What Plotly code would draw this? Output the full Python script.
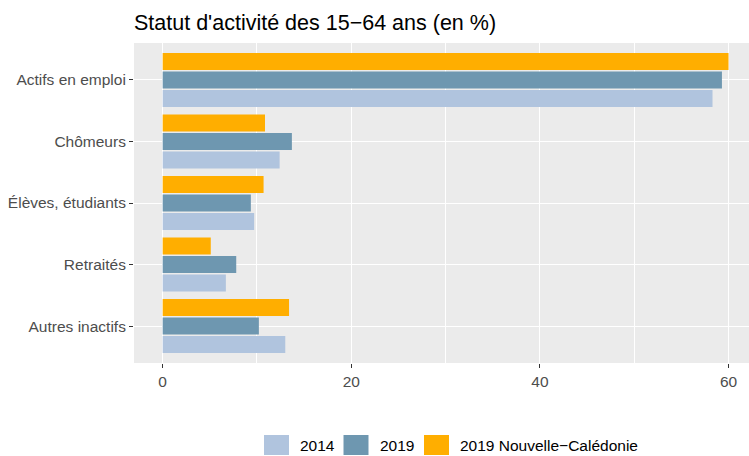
import plotly.graph_objects as go

categories = ["Actifs en emploi", "Chômeurs", "Élèves, étudiants", "Retraités", "Autres inactifs"]
v2014 = [58.3, 12.4, 9.7, 6.7, 13.0]
v2019 = [59.3, 13.7, 9.35, 7.8, 10.2]
v2019_nc = [60.0, 10.85, 10.7, 5.1, 13.4]
series_names = ["2014", "2019", "2019 Nouvelle\u2212Calédonie"]
colors = ["#B0C4DE", "#6E97B0", "#FFAE00"]
x_ticks = [0, 20, 40, 60]

W, H = 749, 456
L, R, T, B = 134, 0, 43, 93
PW, PH = W - L - R, H - T - B

def px(x):
    return (x - L) / PW

def py(y):
    return (H - B - y) / PH

fig = go.Figure()
for name, vals, col in zip(series_names, [v2014, v2019, v2019_nc], colors):
    fig.add_trace(go.Bar(y=categories, x=vals, name=name, orientation="h", showlegend=False,
                         marker=dict(color=col, line=dict(width=0))))

font = "Liberation Sans, Arial, sans-serif"

# manual legend (ggplot-style keys)
key_x = [264, 343.5, 424]
shapes, annots = [], []
for kx, name, col in zip(key_x, series_names, colors):
    shapes.append(dict(type="rect", xref="paper", yref="paper",
                       x0=px(kx), x1=px(kx + 25), y0=py(455), y1=py(435),
                       fillcolor=col, line=dict(width=0)))
    annots.append(dict(xref="paper", yref="paper", x=px(kx + 34), y=py(445.5),
                       text=name, showarrow=False, xanchor="left", yanchor="middle",
                       font=dict(size=15.5, color="black", family=font)))

fig.update_layout(
    width=W, height=H,
    barmode="group", bargap=0.1, bargroupgap=0.08,
    paper_bgcolor="white", plot_bgcolor="#EBEBEB",
    margin=dict(l=L, r=R, t=T, b=B, autoexpand=False),
    font=dict(family=font, color="#4D4D4D", size=15.5),
    title=dict(text="Statut d'activité des 15\u221264 ans (en %)", x=134/W, xanchor="left",
               xref="container", y=1 - 22/H, yanchor="middle", yref="container",
               font=dict(size=21.5, color="black", family=font)),
    xaxis=dict(range=[-3.04, 62.17], tickvals=x_ticks, showgrid=True, gridcolor="white", gridwidth=1.1,
               minor=dict(dtick=10, tick0=0, showgrid=True, gridcolor="white", gridwidth=0.55),
               ticks="outside", ticklen=4, tickwidth=1.1, tickcolor="#333333", zeroline=False,
               tickfont=dict(size=15.5, color="#4D4D4D"), automargin=False),
    yaxis=dict(categoryorder="array", categoryarray=categories[::-1], range=[-0.6, 4.6],
               showgrid=True, gridcolor="white", gridwidth=1.1,
               ticks="outside", ticklen=4, tickwidth=1.1, tickcolor="#333333",
               tickfont=dict(size=15.5, color="#4D4D4D"), automargin=False),
    shapes=shapes, annotations=annots,
    showlegend=False,
)
fig.write_html("out.html", config={"displayModeBar": False},
               post_script="document.body.style.margin='0';document.body.style.overflow='hidden';")
